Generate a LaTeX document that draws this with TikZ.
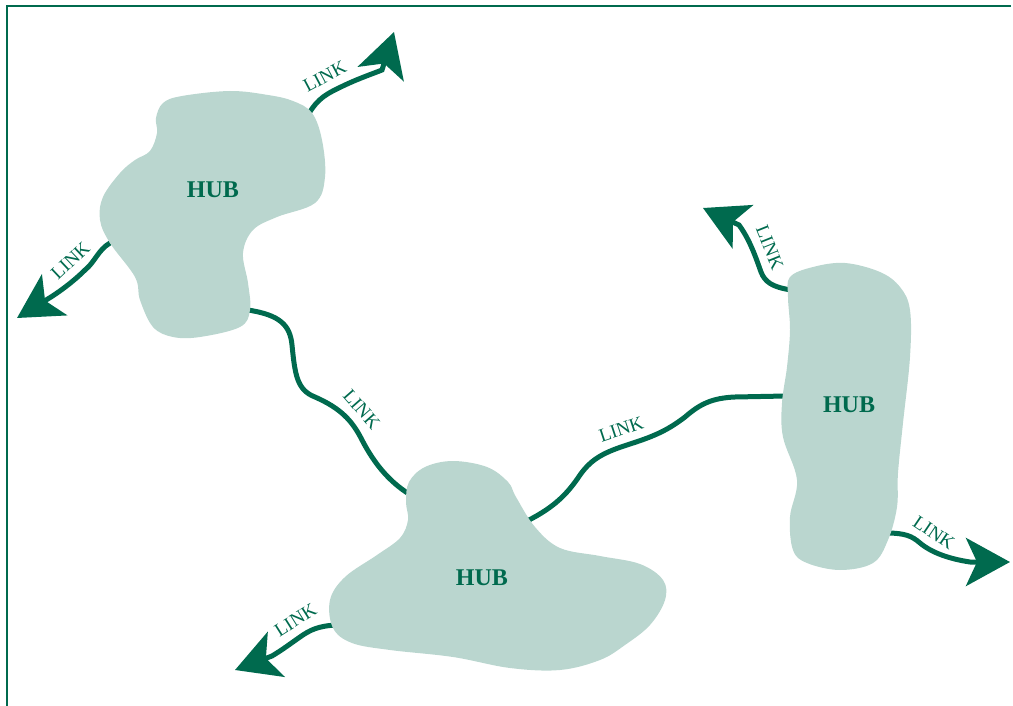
\documentclass[tikz,border=0pt]{standalone}
\usepackage{xcolor}
\usepackage{fontspec}
\setmainfont{Liberation Serif}
\usepackage{tikz}
\usetikzlibrary{arrows.meta}

\definecolor{hubgreen}{RGB}{0,106,78}
\definecolor{hubpale}{RGB}{186,214,207}

\tikzset{
	hubfill/.style={fill=hubpale},
	hublbl/.style={text=hubgreen,font=\fontsize{24}{26}\selectfont\bfseries},
	link/.style={draw=hubgreen,line width=5pt},
	linkarrow/.style={link,-{Stealth[length=44pt,width=48pt,inset=11pt]}},
	lbl/.style={sloped,above=6pt,inner sep=2pt,text=hubgreen,font=\fontsize{19}{21}\selectfont}
}

\begin{document}
\begin{tikzpicture}[x=1pt,y=-1pt]
			\useasboundingbox (0,0) rectangle (1013,706);
			\draw[hubgreen,line width=1.2pt] (1011,6) -- (7,6) -- (7,706);

			% where the links meet the hubs
			\coordinate (ane) at (308,115);
			\coordinate (aw) at (110,243);
			\coordinate (as) at (248,310);
			\coordinate (bn) at (409,494);
			\coordinate (bne) at (527,521);
			\coordinate (bw) at (336,625);
			\coordinate (cw) at (786,396);
			\coordinate (cnw) at (791,290);
			\coordinate (cse) at (886,533);
			% loose ends
			\coordinate (tipane) at (394,32);
			\coordinate (tipaw) at (17,318);
			\coordinate (tipbw) at (235,670);
			\coordinate (tipcnw) at (703,208);
			\coordinate (tipcse) at (1010,562);

			% links
			\path[linkarrow] (ane) .. controls (318,98) and (326,94) .. (345,85)
				node[lbl,pos=0.75] {LINK}
				.. controls (360,78) and (372,74) .. (382,70) -- (tipane);
			\path[linkarrow] (aw) .. controls (98,250) and (95,262) .. (85,270)
				.. controls (75,280) and (62,290) .. (51,297)
				node[lbl,pos=0.1] {LINK} -- (tipaw);
			\path[link] (as) .. controls (280,315) and (290,325) .. (292,345)
				.. controls (295,375) and (297,390) .. (315,397)
				.. controls (340,408) and (352,420) .. (362,440)
				node[lbl,pos=0.62] {LINK}
				.. controls (375,465) and (390,482) .. (bn);
			\path[link] (bne) .. controls (555,507) and (568,493) .. (580,475)
				.. controls (592,458) and (605,452) .. (630,444)
				node[lbl,pos=0.95] {LINK}
				.. controls (655,436) and (668,430) .. (685,417)
				.. controls (700,404) and (712,398) .. (735,397) -- (cw);
			\path[linkarrow] (bw) .. controls (318,626) and (310,630) .. (300,637)
				node[lbl,pos=0.85] {LINK}
				.. controls (290,644) and (282,650) .. (272,656) -- (tipbw);
			\path[linkarrow] (cnw) .. controls (772,287) and (765,282) .. (761,272)
				.. controls (756,258) and (750,240) .. (739,225)
				node[lbl,pos=0.4] {LINK} -- (tipcnw);
			\path[linkarrow] (cse) .. controls (905,533) and (912,536) .. (920,543)
				.. controls (932,553) and (950,559) .. (970,562)
				node[lbl,pos=0.12] {LINK} -- (tipcse);

			% hubs
			\fill[hubfill] plot[smooth cycle,tension=0.6] coordinates {
				(163,103) (182,96) (230,91) (268,95) (293,101) (312,113) (322,140)
				(325,177) (315,203) (277,217) (253,230) (243,253) (248,283) (250,310)
				(240,327) (200,337) (173,337) (153,327) (140,300) (135,277) (110,243)
				(100,220) (103,197) (120,173) (135,160) (150,151) (157,133) (156,118)};
			\fill[hubfill] plot[smooth cycle,tension=0.6] coordinates {
				(409,482) (425,467) (453,461) (487,467) (508,482) (516,497) (535,527)
				(560,548) (600,556) (640,564) (663,580) (665,600) (650,625) (625,645)
				(600,660) (560,670) (510,668) (453,657) (390,650) (352,643) (333,628)
				(330,600) (345,577) (377,555) (400,538) (408,520) (406,502)};
			\fill[hubfill] plot[smooth cycle,tension=0.6] coordinates {
				(790,277) (813,267) (845,263) (880,272) (900,287) (910,310) (910,357)
				(903,423) (898,473) (897,507) (888,540) (873,563) (840,570) (807,563)
				(793,550) (790,517) (797,480) (783,437) (782,403) (787,367) (790,330)
				(788,297)};

			\node[hublbl] (huba) at (213,190) {HUB};
			\node[hublbl] (hubb) at (482,578) {HUB};
			\node[hublbl] (hubc) at (849,405) {HUB};
\end{tikzpicture}
\end{document}
